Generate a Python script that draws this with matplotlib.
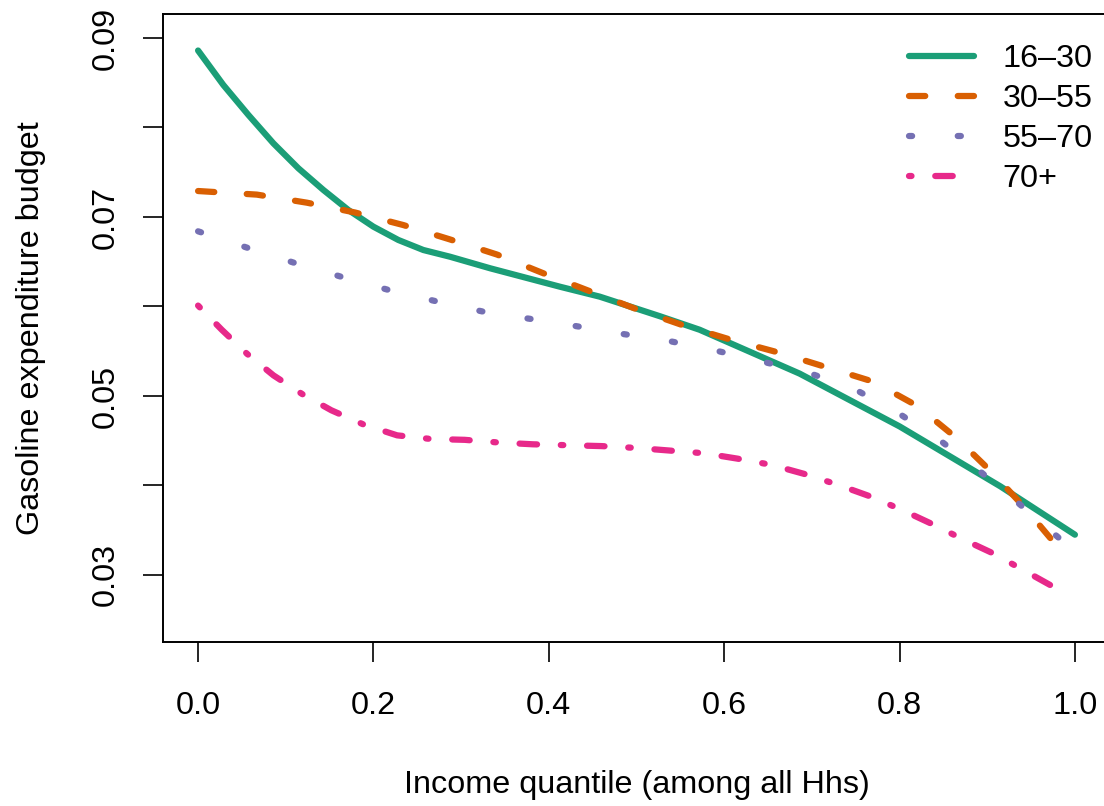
import matplotlib
matplotlib.use("Agg")
import matplotlib.pyplot as plt

plt.rcParams['font.family'] = ['Liberation Sans', 'DejaVu Sans']

# ---- data ----
x_1630 = [0.0, 0.0288, 0.0574, 0.0859, 0.1144, 0.1429, 0.1714, 0.1999, 0.2284, 0.2569, 0.2873, 0.333, 0.413, 0.458, 0.527, 0.572, 0.686, 0.80, 0.915, 1.0]
y_1630 = [0.0886, 0.08475, 0.0814, 0.07823, 0.07544, 0.07302, 0.07078, 0.06892, 0.06743, 0.06631, 0.06556, 0.06427, 0.0622, 0.0611, 0.0589, 0.0574, 0.0525, 0.0466, 0.0399, 0.0345]

x_3055 = [0.0, 0.067, 0.124, 0.179, 0.234, 0.287, 0.341, 0.394, 0.447, 0.5, 0.553, 0.607, 0.664, 0.717, 0.77, 0.82, 0.865, 0.905, 0.943, 0.985, 0.99]
y_3055 = [0.0729, 0.0725, 0.0716, 0.0705, 0.0691, 0.0675, 0.0658, 0.0637, 0.0617, 0.0597, 0.0579, 0.0563, 0.0548, 0.0532, 0.0516, 0.0489, 0.0453, 0.0415, 0.0375, 0.0326, 0.0320]

x_5570 = [0.0, 0.055, 0.109, 0.164, 0.219, 0.275, 0.331, 0.387, 0.444, 0.472, 0.529, 0.585, 0.641, 0.696, 0.750, 0.800, 0.848, 0.894, 0.937, 0.981, 0.99]
y_5570 = [0.0684, 0.0666, 0.0649, 0.0633, 0.0618, 0.0605, 0.0593, 0.0585, 0.0576, 0.0571, 0.0563, 0.0552, 0.0539, 0.0526, 0.0507, 0.0480, 0.0449, 0.0414, 0.0379, 0.0342, 0.0335]

x_70 = [0.0, 0.027, 0.056, 0.086, 0.119, 0.152, 0.189, 0.227, 0.265, 0.304, 0.343, 0.382, 0.421, 0.46, 0.499, 0.538, 0.577, 0.615, 0.654, 0.691, 0.729, 0.766, 0.802, 0.837, 0.872, 0.907, 0.942, 0.975, 0.99]
y_70 = [0.0601, 0.0574, 0.0547, 0.0523, 0.0502, 0.0484, 0.0468, 0.0456, 0.0452, 0.0451, 0.0448, 0.0446, 0.0445, 0.0444, 0.0442, 0.0439, 0.0436, 0.0430, 0.0423, 0.0413, 0.0401, 0.0388, 0.0373, 0.0357, 0.0340, 0.0324, 0.0305, 0.0287, 0.0280]

labels = ["16\u201330", "30\u201355", "55\u201370", "70+"]
colors = ["#1B9E77", "#D95F02", "#7570B3", "#E7298A"]
x_ticks = [0.0, 0.2, 0.4, 0.6, 0.8, 1.0]
x_ticklabels = ["0.0", "0.2", "0.4", "0.6", "0.8", "1.0"]
y_ticks = [0.03, 0.04, 0.05, 0.06, 0.07, 0.08, 0.09]
y_ticklabels = ["0.03", "", "0.05", "", "0.07", "", "0.09"]

W, H = 1104, 806
fig = plt.figure(figsize=(W / 100, H / 100), dpi=100)
ax = fig.add_axes([163 / W, (H - 642) / H, (1110 - 163) / W, (642 - 14) / H])

lw = 4.5
fs = 23.3
series = [(x_1630, y_1630), (x_3055, y_3055), (x_5570, y_5570), (x_70, y_70)]
dash_styles = [None, (0, (2.6, 5.2)), (0, (0.5, 7.3)), (0, (0.4, 3.8, 2.8, 3.8))]
handles = []
for (xs, ys), c, ls, lab in zip(series, colors, dash_styles, labels):
    kw = dict(color=c, lw=lw, solid_capstyle='round', dash_capstyle='round',
              solid_joinstyle='round', dash_joinstyle='round', label=lab)
    if ls is not None:
        kw['linestyle'] = ls
    ln, = ax.plot(xs, ys, **kw)
    handles.append(ln)

ax.set_xlim(-0.04, 1.04)
ax.set_ylim(0.02251, 0.09268)
ax.set_xticks(x_ticks)
ax.set_xticklabels(x_ticklabels)
ax.set_yticks(y_ticks)
ax.set_yticklabels(y_ticklabels, rotation=90, va='center')

for s in ax.spines.values():
    s.set_linewidth(1.4)
ax.tick_params(axis='both', direction='out', length=14.4, width=1.2, labelsize=fs, color='black')
ax.tick_params(axis='x', pad=21)
ax.tick_params(axis='y', pad=16)

ax.set_xlabel("Income quantile (among all Hhs)", fontsize=fs, labelpad=35)
ax.set_ylabel("Gasoline expenditure budget", fontsize=fs, labelpad=32.5)

leg = ax.legend(handles=handles, loc='upper left',
                bbox_to_anchor=(909 / W, 1 - 44 / H), bbox_transform=fig.transFigure,
                frameon=False, fontsize=fs, handlelength=2.0, handletextpad=0.89,
                labelspacing=0.31, borderpad=0, borderaxespad=0)

fig.savefig("out.png", dpi=100)
